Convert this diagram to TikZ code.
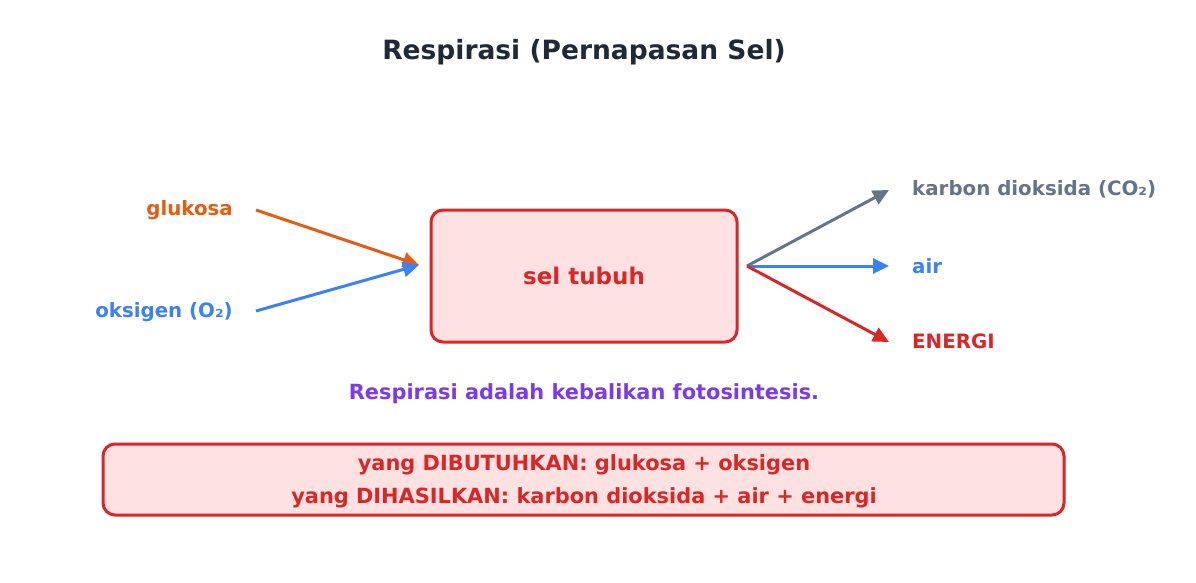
\documentclass[tikz,border=0pt]{standalone}
\usepackage{fontspec}
\setmainfont{DejaVu Sans}
\usetikzlibrary{arrows.meta}
\definecolor{corange}{HTML}{E35D12}
\definecolor{cblue}{HTML}{3B82F6}
\definecolor{cgray}{HTML}{64748B}
\definecolor{cred}{HTML}{DC2626}
\definecolor{cfill}{HTML}{FEE2E2}
\definecolor{cpurple}{HTML}{7C3AED}
\definecolor{ctitle}{HTML}{1F2937}
\tikzset{
  lbl/.style={font=\bfseries\fontsize{19.8}{23}\selectfont, inner sep=0pt},
  big/.style={font=\bfseries\fontsize{20.9}{24}\selectfont, inner sep=0pt},
  arr/.style={line width=3pt, -{Triangle[length=16pt,width=15pt]}},
  redbox/.style={draw=cred, fill=cfill, line width=3pt, rounded corners=12pt},
}
\begin{document}
\begin{tikzpicture}[x=1pt,y=-1pt]
\useasboundingbox (0,0) rectangle (1196,583);
\node[font=\bfseries\fontsize{26.5}{30}\selectfont, text=ctitle] (title) at (584,52.5) {Respirasi (Pernapasan Sel)};
\node[redbox, minimum width=306pt, minimum height=132pt] (cell) at (584,276) {};
\node[font=\bfseries\fontsize{23}{27}\selectfont, text=cred] (celltext) at (584,276) {sel tubuh};
\node[lbl, text=corange, anchor=east] (glu) at (233,210.5) {glukosa};
\node[lbl, text=cblue, anchor=east] (oks) at (233,312.5) {oksigen (O₂)};
\coordinate (gs) at (256,210);
\coordinate (os) at (256,311);
\coordinate (in) at (419,265);
\coordinate (out) at (747,266);
\coordinate (e1) at (889,190);
\coordinate (e2) at (889,266);
\coordinate (e3) at (889,342);
\draw[arr, corange] (gs) -- (in);
\draw[arr, cblue] (os) -- (in);
\draw[arr, cgray] (out) -- (e1);
\draw[arr, cblue] (out) -- (e2);
\draw[arr, cred] (out) -- (e3);
\node[lbl, text=cgray, anchor=west] (co2) at (912,189.5) {karbon dioksida (CO₂)};
\node[lbl, text=cblue, anchor=west] (air) at (912,266) {air};
\node[lbl, text=cred, anchor=west] (en) at (912,341) {ENERGI};
\node[big, text=cpurple] (note) at (584,393.5) {Respirasi adalah kebalikan fotosintesis.};
\node[redbox, minimum width=961pt, minimum height=71pt] (sum) at (583.5,479.5) {};
\node[big, text=cred] (l1) at (584,464.5) {yang DIBUTUHKAN: glukosa + oksigen};
\node[big, text=cred] (l2) at (584,497.5) {yang DIHASILKAN: karbon dioksida + air + energi};
\end{tikzpicture}
\end{document}
